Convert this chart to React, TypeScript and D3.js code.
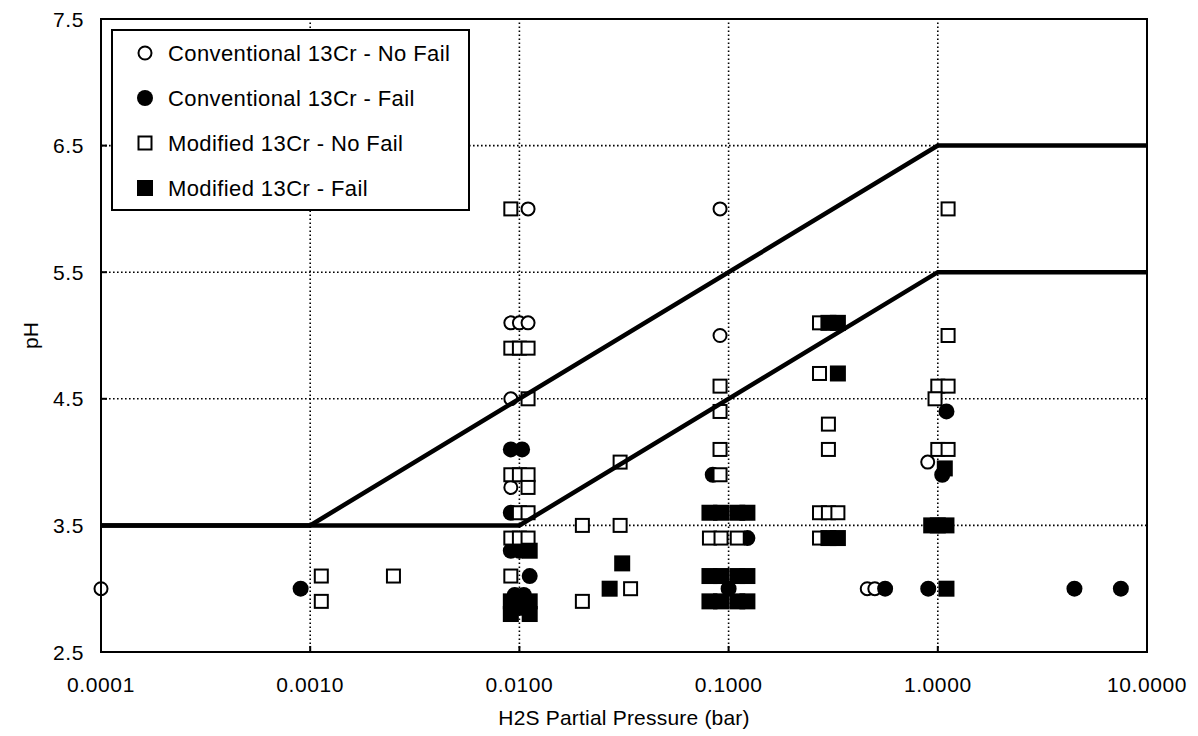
import * as d3 from "d3";

// tick values
const xTicks = [0.0001, 0.001, 0.01, 0.1, 1, 10];
const yTicks = [2.5, 3.5, 4.5, 5.5, 6.5, 7.5];

// limit lines [pressure, pH]
const upperLimit: [number, number][] = [[0.0001, 3.5], [0.001, 3.5], [1, 6.5], [10, 6.5]];
const lowerLimit: [number, number][] = [[0.0001, 3.5], [0.01, 3.5], [1, 5.5], [10, 5.5]];

// Conventional 13Cr - No Fail
const convNoFail: [number, number][] = [
  [0.0001, 3.0], [0.011, 6.0], [0.0091, 5.1], [0.01, 5.1], [0.011, 5.1],
  [0.0091, 4.5], [0.0091, 3.8], [0.091, 6.0], [0.091, 5.0],
  [0.46, 3.0], [0.5, 3.0], [0.895, 4.0],
];

// Conventional 13Cr - Fail
const convFail: [number, number][] = [
  [0.0009, 3.0], [0.0091, 4.1], [0.0103, 4.1], [0.0091, 3.6],
  [0.0091, 3.3], [0.01, 3.3], [0.0112, 3.1], [0.0095, 2.95], [0.0105, 2.95],
  [0.084, 3.9], [0.123, 3.4], [0.1, 3.0], [0.56, 3.0], [0.9, 3.0],
  [1.1, 4.4], [1.05, 3.9], [4.5, 3.0], [7.5, 3.0],
];

// Modified 13Cr - No Fail
const modNoFail: [number, number][] = [
  [0.0091, 6.0], [0.0091, 4.9], [0.01, 4.9], [0.011, 4.9], [0.011, 4.5],
  [0.0091, 3.9], [0.01, 3.9], [0.011, 3.9], [0.011, 3.8],
  [0.01, 3.6], [0.011, 3.6], [0.0091, 3.4], [0.01, 3.4], [0.011, 3.4],
  [0.0091, 3.1], [0.00113, 3.1], [0.00113, 2.9], [0.0025, 3.1],
  [0.02, 3.5], [0.0303, 3.5], [0.0303, 4.0], [0.02, 2.9], [0.034, 3.0],
  [0.091, 4.6], [0.091, 4.4], [0.091, 4.1], [0.091, 3.9],
  [0.081, 3.4], [0.092, 3.4], [0.11, 3.4],
  [0.272, 5.1], [0.272, 4.7], [0.3, 4.3], [0.3, 4.1],
  [0.272, 3.6], [0.3, 3.6], [0.333, 3.6], [0.272, 3.4],
  [1.12, 6.0], [1.12, 5.0], [1.0, 4.6], [1.12, 4.6], [0.97, 4.5],
  [1.0, 4.1], [1.12, 4.1],
];

// Modified 13Cr - Fail
const modFail: [number, number][] = [
  [0.0112, 3.3], [0.0091, 2.9], [0.0091, 2.8], [0.01, 2.85], [0.0112, 2.9], [0.0112, 2.8],
  [0.031, 3.2], [0.027, 3.0],
  [0.081, 3.6], [0.092, 3.6], [0.11, 3.6], [0.123, 3.6],
  [0.081, 3.1], [0.092, 3.1], [0.11, 3.1], [0.123, 3.1],
  [0.081, 2.9], [0.092, 2.9], [0.11, 2.9], [0.123, 2.9],
  [0.3, 5.1], [0.333, 5.1], [0.333, 4.7], [0.3, 3.4], [0.333, 3.4],
  [1.08, 3.95], [0.93, 3.5], [1.0, 3.5], [1.1, 3.5], [1.1, 3.0],
];

const legendLabels = [
  "Conventional 13Cr - No Fail",
  "Conventional 13Cr - Fail",
  "Modified 13Cr - No Fail",
  "Modified 13Cr - Fail",
];

const WIDTH = 1198;
const HEIGHT = 736;
const MARGIN = { top: 19, right: 51, bottom: 84, left: 101 };
const FONT = "Arial, 'Liberation Sans', sans-serif";

function Marker({ kind, cx, cy }: { kind: number; cx: number; cy: number }) {
  if (kind === 0)
    return <circle cx={cx} cy={cy} r={6.5} fill="#fff" stroke="#000" strokeWidth={2} />;
  if (kind === 1) return <circle cx={cx} cy={cy} r={8} fill="#000" />;
  if (kind === 2)
    return <rect x={cx - 6.5} y={cy - 6.5} width={13} height={13} fill="#fff" stroke="#000" strokeWidth={2} />;
  return <rect x={cx - 8} y={cy - 8} width={16} height={16} fill="#000" />;
}

export default function App() {
  const x = d3.scaleLog().domain([0.0001, 10]).range([MARGIN.left, WIDTH - MARGIN.right]);
  const y = d3.scaleLinear().domain([2.5, 7.5]).range([HEIGHT - MARGIN.bottom, MARGIN.top]);
  const fmt = d3.format(".4f");
  const line = d3
    .line<[number, number]>()
    .x((d) => x(d[0]))
    .y((d) => y(d[1]));

  const x0 = x(0.0001);
  const x1 = x(10);
  const y0 = y(2.5);
  const y1 = y(7.5);

  const series = [convNoFail, convFail, modNoFail, modFail];

  return (
    <svg
      width={WIDTH}
      height={HEIGHT}
      style={{ position: "absolute", left: 0, top: 0, background: "#fff" }}
      fontFamily={FONT}
    >
      <rect width={WIDTH} height={HEIGHT} fill="#fff" />

      {/* grid */}
      {xTicks.slice(1, -1).map((t) => (
        <line key={"gx" + t} x1={x(t)} x2={x(t)} y1={y0} y2={y1} stroke="#000" strokeWidth={1.6} strokeDasharray="1.6,2.4" />
      ))}
      {yTicks.slice(1, -1).map((t) => (
        <line key={"gy" + t} x1={x0} x2={x1} y1={y(t)} y2={y(t)} stroke="#000" strokeWidth={1.6} strokeDasharray="1.6,2.4" />
      ))}

      {/* points */}
      {series.map((s, k) =>
        s.map((d, i) => <Marker key={k + "-" + i} kind={k} cx={x(d[0])} cy={y(d[1])} />)
      )}

      {/* limit lines */}
      <path d={line(upperLimit) || ""} fill="none" stroke="#000" strokeWidth={4.5} />
      <path d={line(lowerLimit) || ""} fill="none" stroke="#000" strokeWidth={4.5} />

      {/* frame */}
      <rect x={x0} y={y1} width={x1 - x0} height={y0 - y1} fill="none" stroke="#000" strokeWidth={2} />

      {/* ticks */}
      {xTicks.map((t) => (
        <g key={"tx" + t}>
          <line x1={x(t)} x2={x(t)} y1={y0} y2={y0 - 6} stroke="#000" strokeWidth={2} />
          <text x={x(t)} y={692} textAnchor="middle" fontSize={21} letterSpacing={0.6}>
            {fmt(t)}
          </text>
        </g>
      ))}
      {yTicks.map((t) => (
        <g key={"ty" + t}>
          <line x1={x0} x2={x0 + 6} y1={y(t)} y2={y(t)} stroke="#000" strokeWidth={2} />
          <text x={84} y={y(t)} dy="0.36em" textAnchor="end" fontSize={21} letterSpacing={0.6}>
            {t.toFixed(1)}
          </text>
        </g>
      ))}

      {/* axis titles */}
      <text x={(x0 + x1) / 2} y={725} textAnchor="middle" fontSize={21} letterSpacing={0.2}>
        H2S Partial Pressure (bar)
      </text>
      <text transform={`translate(38, ${(y0 + y1) / 2}) rotate(-90)`} textAnchor="middle" fontSize={21}>
        pH
      </text>

      {/* legend */}
      <rect x={112} y={30} width={357} height={180} fill="#fff" stroke="#000" strokeWidth={2} />
      {legendLabels.map((lab, i) => {
        const cy = 53 + i * 45;
        return (
          <g key={lab}>
            <Marker kind={i} cx={145} cy={cy} />
            <text x={168} y={cy} dy="0.36em" fontSize={22} letterSpacing={0.4}>
              {lab}
            </text>
          </g>
        );
      })}
    </svg>
  );
}
